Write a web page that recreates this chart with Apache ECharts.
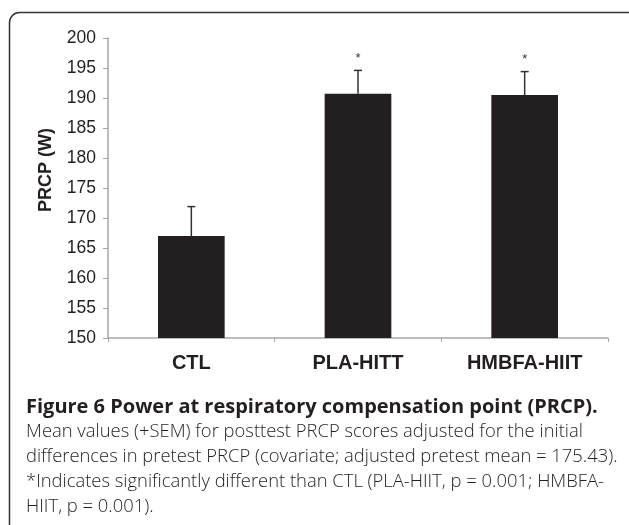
<!DOCTYPE html>
<html>
<head>
<meta charset="utf-8">
<script src="https://cdn.jsdelivr.net/npm/echarts@6/dist/echarts.min.js"></script>
<style>
  html, body { margin: 0; padding: 0; background: #fff; }
  #main { width: 629px; height: 525px; }
</style>
</head>
<body>
<div id="main"></div>
<script>
  // data
  var groups = ['CTL', 'PLA-HITT', 'HMBFA-HIIT'];
  var means = [167.0, 190.7, 190.5];
  var sems = [4.9, 3.9, 3.9];
  var marks = ['', '*', '*'];
  var yTicks = [150, 155, 160, 165, 170, 175, 180, 185, 190, 195, 200];

  var captionTitle = 'Figure 6 Power at respiratory compensation point (PRCP).';
  var captionLines = [
    'Mean values (+SEM) for posttest PRCP scores adjusted for the initial',
    'differences in pretest PRCP (covariate; adjusted pretest mean = 175.43).',
    '*Indicates significantly different than CTL (PLA-HIIT, p = 0.001; HMBFA-',
    'HIIT, p = 0.001).'
  ];

  var chart = echarts.init(document.getElementById('main'));

  var errData = groups.map(function (g, i) {
    return [i, means[i], means[i] + sems[i], marks[i]];
  });

  var graphics = [
    {
      type: 'rect',
      shape: { x: 9.5, y: 12.5, width: 640, height: 540, r: 10 },
      style: { fill: 'none', stroke: '#333', lineWidth: 1.5 },
      silent: true
    },
    {
      type: 'text',
      x: 46, y: 170,
      rotation: Math.PI / 2,
      style: {
        text: 'PRCP (W)',
        font: 'bold 18px "Liberation Sans", Arial, sans-serif',
        fill: '#231f20',
        textAlign: 'center',
        textVerticalAlign: 'middle'
      }
    },
    {
      type: 'text',
      x: 26, y: 407,
      style: {
        text: captionTitle,
        font: 'bold 20px "Open Sans", sans-serif',
        fill: '#231f20',
        textVerticalAlign: 'middle'
      }
    }
  ];
  captionLines.forEach(function (line, i) {
    graphics.push({
      type: 'text',
      x: 26, y: 432 + i * 25,
      style: {
        text: line,
        font: '300 18.4px "Open Sans", sans-serif',
        fill: '#231f20',
        textVerticalAlign: 'middle'
      }
    });
  });

  var option = {
    animation: false,
    grid: { left: 108, right: 21, top: 38, bottom: 187 },
    xAxis: {
      type: 'category',
      data: groups,
      axisLine: { lineStyle: { color: '#a6a6a6', width: 1.5 } },
      axisTick: { show: true, length: 4, lineStyle: { color: '#a6a6a6' } },
      axisLabel: {
        margin: 15,
        fontFamily: '"Liberation Sans", Arial, sans-serif',
        fontWeight: 'bold',
        fontSize: 20,
        color: '#231f20'
      }
    },
    yAxis: {
      type: 'value',
      min: yTicks[0],
      max: yTicks[yTicks.length - 1],
      interval: 5,
      splitLine: { show: false },
      axisLine: { show: true, lineStyle: { color: '#a6a6a6', width: 1.5 } },
      axisTick: { show: true, length: 5, lineStyle: { color: '#a6a6a6' } },
      axisLabel: {
        margin: 12,
        fontFamily: '"Liberation Sans", Arial, sans-serif',
        fontSize: 17.5,
        color: '#231f20'
      }
    },
    series: [
      {
        type: 'bar',
        data: means,
        barWidth: '40%',
        itemStyle: { color: '#231f20' },
        z: 2
      },
      {
        type: 'custom',
        data: errData,
        z: 3,
        renderItem: function (params, api) {
          var x = api.value(0);
          var base = api.coord([x, api.value(1)]);
          var top = api.coord([x, api.value(2)]);
          var cap = 4;
          var children = [
            {
              type: 'line',
              shape: { x1: base[0], y1: base[1], x2: top[0], y2: top[1] },
              style: { stroke: '#333', lineWidth: 1.5 }
            },
            {
              type: 'line',
              shape: { x1: top[0] - cap, y1: top[1], x2: top[0] + cap, y2: top[1] },
              style: { stroke: '#333', lineWidth: 1.5 }
            }
          ];
          var m = errData[params.dataIndex][3];
          if (m) {
            children.push({
              type: 'text',
              x: top[0], y: top[1] - 12,
              style: {
                text: m,
                font: '13px "Liberation Sans", Arial, sans-serif',
                fill: '#333',
                textAlign: 'center',
                textVerticalAlign: 'middle'
              }
            });
          }
          return { type: 'group', children: children };
        }
      }
    ],
    graphic: graphics
  };

  chart.setOption(option);
</script>
</body>
</html>
